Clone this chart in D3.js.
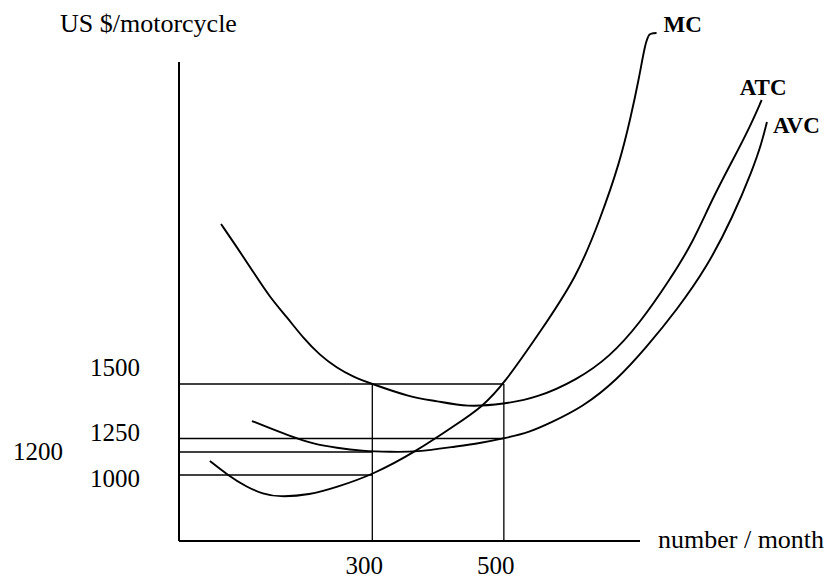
<!DOCTYPE html>
<html>
<head>
<meta charset="utf-8">
<script src="https://cdn.jsdelivr.net/npm/d3@7/dist/d3.min.js"></script>
<style>
body { margin: 0; background: #fff; }
text { font-family: "Liberation Serif", "Times New Roman", serif; fill: #000; }
</style>
</head>
<body>
<div id="chart"></div>
<script>
// quantities (number / month) and costs (US $/motorcycle)
var mcQty   = [53, 80, 109, 134, 157, 205, 246, 300, 368, 429, 467, 500, 555, 611, 646, 676, 693, 705, 715, 720];
var mcCost  = [1122, 1000, 945, 914, 900, 909, 945, 1000, 1204, 1317, 1395, 1500, 1742, 1998, 2264, 2529, 2744, 2916, 3088, 3121];

var atcQty  = [70, 94, 119, 144, 170, 195, 220, 246, 271, 300, 357, 398, 444, 500, 550, 611, 661, 707, 752, 787, 816, 848, 874, 892];
var atcCost = [2245, 2138, 2022, 1905, 1812, 1714, 1635, 1575, 1533, 1500, 1440, 1422, 1394, 1408, 1436, 1519, 1626, 1784, 1984, 2157, 2357, 2543, 2697, 2823];

var avcQty  = [117, 144, 179, 210, 246, 284, 327, 368, 422, 464, 500, 540, 570, 620, 672, 717, 763, 809, 848, 878, 892, 900];
var avcCost = [1330, 1298, 1257, 1230, 1215, 1204, 1200, 1200, 1219, 1233, 1250, 1280, 1321, 1394, 1519, 1672, 1845, 2045, 2278, 2497, 2623, 2720];

// horizontal guide lines: price level and the quantity they run to
var guideCost = [1500, 1250, 1200, 1000];
var guideTo   = [500, 500, 300, 300];
// vertical guides at these quantities, up to this price
var dropQty  = [300, 500];
var dropCost = [1500, 1500];

var yTicks = ["1500", "1250", "1000"];
var ySideTick = "1200";
var xTicks = ["300", "500"];

var curveNames = ["MC", "ATC", "AVC"];

// setting dimensions
var svgWidth = 835;
var svgHeight = 580;
var axisLeftX = 179;

var svg = d3.select("#chart")
  .append("svg")
  .attr("width", svgWidth)
  .attr("height", svgHeight);

// the sketch's price axis is not evenly spaced, so use a piecewise scale
var xScale = d3.scaleLinear().domain([0, 707]).range([175, 640]);
var yScale = d3.scaleLinear()
  .domain([700, 1000, 1200, 1250, 1500, 3000])
  .range([541, 475, 452, 438.5, 384, 62]);

var line = d3.line()
  .x(d => xScale(d[0]))
  .y(d => yScale(d[1]))
  .curve(d3.curveBasis);

// guide lines
svg.selectAll(".guide")
  .data(guideCost)
  .enter()
  .append("line")
  .attr("x1", axisLeftX)
  .attr("x2", (d, i) => xScale(guideTo[i]))
  .attr("y1", d => yScale(d))
  .attr("y2", d => yScale(d))
  .attr("stroke", "#000")
  .attr("stroke-width", 1.3);

svg.selectAll(".drop")
  .data(dropQty)
  .enter()
  .append("line")
  .attr("x1", d => xScale(d))
  .attr("x2", d => xScale(d))
  .attr("y1", (d, i) => yScale(dropCost[i]))
  .attr("y2", yScale(700))
  .attr("stroke", "#000")
  .attr("stroke-width", 1.3);

// axes, plain lines with no tick marks like the sketch
svg.append("line")
  .attr("x1", axisLeftX).attr("x2", axisLeftX)
  .attr("y1", yScale(3000)).attr("y2", yScale(700))
  .attr("stroke", "#000").attr("stroke-width", 2);
svg.append("line")
  .attr("x1", axisLeftX).attr("x2", xScale(707))
  .attr("y1", yScale(700)).attr("y2", yScale(700))
  .attr("stroke", "#000").attr("stroke-width", 2);

// curves
var series = [
  d3.zip(mcQty, mcCost),
  d3.zip(atcQty, atcCost),
  d3.zip(avcQty, avcCost)
];

svg.selectAll(".curve")
  .data(series)
  .enter()
  .append("path")
  .attr("d", line)
  .attr("fill", "none")
  .attr("stroke", "#000")
  .attr("stroke-width", 1.9);

// little hook on top of MC, as drawn
var mcEnd = [xScale(mcQty[mcQty.length - 1]), yScale(mcCost[mcCost.length - 1])];
svg.append("path")
  .attr("d", "M" + mcEnd[0] + "," + mcEnd[1] + " Q" + (mcEnd[0] + 1) + "," + (mcEnd[1] - 3) + " " + (mcEnd[0] + 8) + "," + (mcEnd[1] - 3))
  .attr("fill", "none")
  .attr("stroke", "#000")
  .attr("stroke-width", 1.9);

// curve labels next to the top ends
var labelShift = [[15, -4], [-22, -5], [6, 11]];
svg.selectAll(".curveLabel")
  .data(series)
  .enter()
  .append("text")
  .attr("x", (d, i) => xScale(d[d.length - 1][0]) + labelShift[i][0])
  .attr("y", (d, i) => yScale(d[d.length - 1][1]) + labelShift[i][1])
  .style("font-size", "23px")
  .style("font-weight", "bold")
  .text((d, i) => curveNames[i]);

// tick labels (the scan sets them a little off their lines)
var yNudge = { "1500": -8, "1250": 2, "1000": 12, "1200": 8 };
svg.selectAll(".ytick")
  .data(yTicks)
  .enter()
  .append("text")
  .attr("x", 140)
  .attr("y", d => yScale(+d) + yNudge[d])
  .style("font-size", "25px")
  .style("text-anchor", "end")
  .text(d => d);

svg.append("text")
  .attr("x", 63)
  .attr("y", yScale(+ySideTick) + yNudge[ySideTick])
  .style("font-size", "25px")
  .style("text-anchor", "end")
  .text(ySideTick);

svg.selectAll(".xtick")
  .data(xTicks)
  .enter()
  .append("text")
  .attr("x", d => xScale(+d) - 8)
  .attr("y", 574)
  .style("font-size", "25px")
  .style("text-anchor", "middle")
  .text(d => d);

// axis titles
svg.append("text")
  .attr("x", 60)
  .attr("y", 32)
  .style("font-size", "26px")
  .text("US $/motorcycle");

svg.append("text")
  .attr("x", 658)
  .attr("y", 548)
  .style("font-size", "26px")
  .text("number / month");
</script>
</body>
</html>
